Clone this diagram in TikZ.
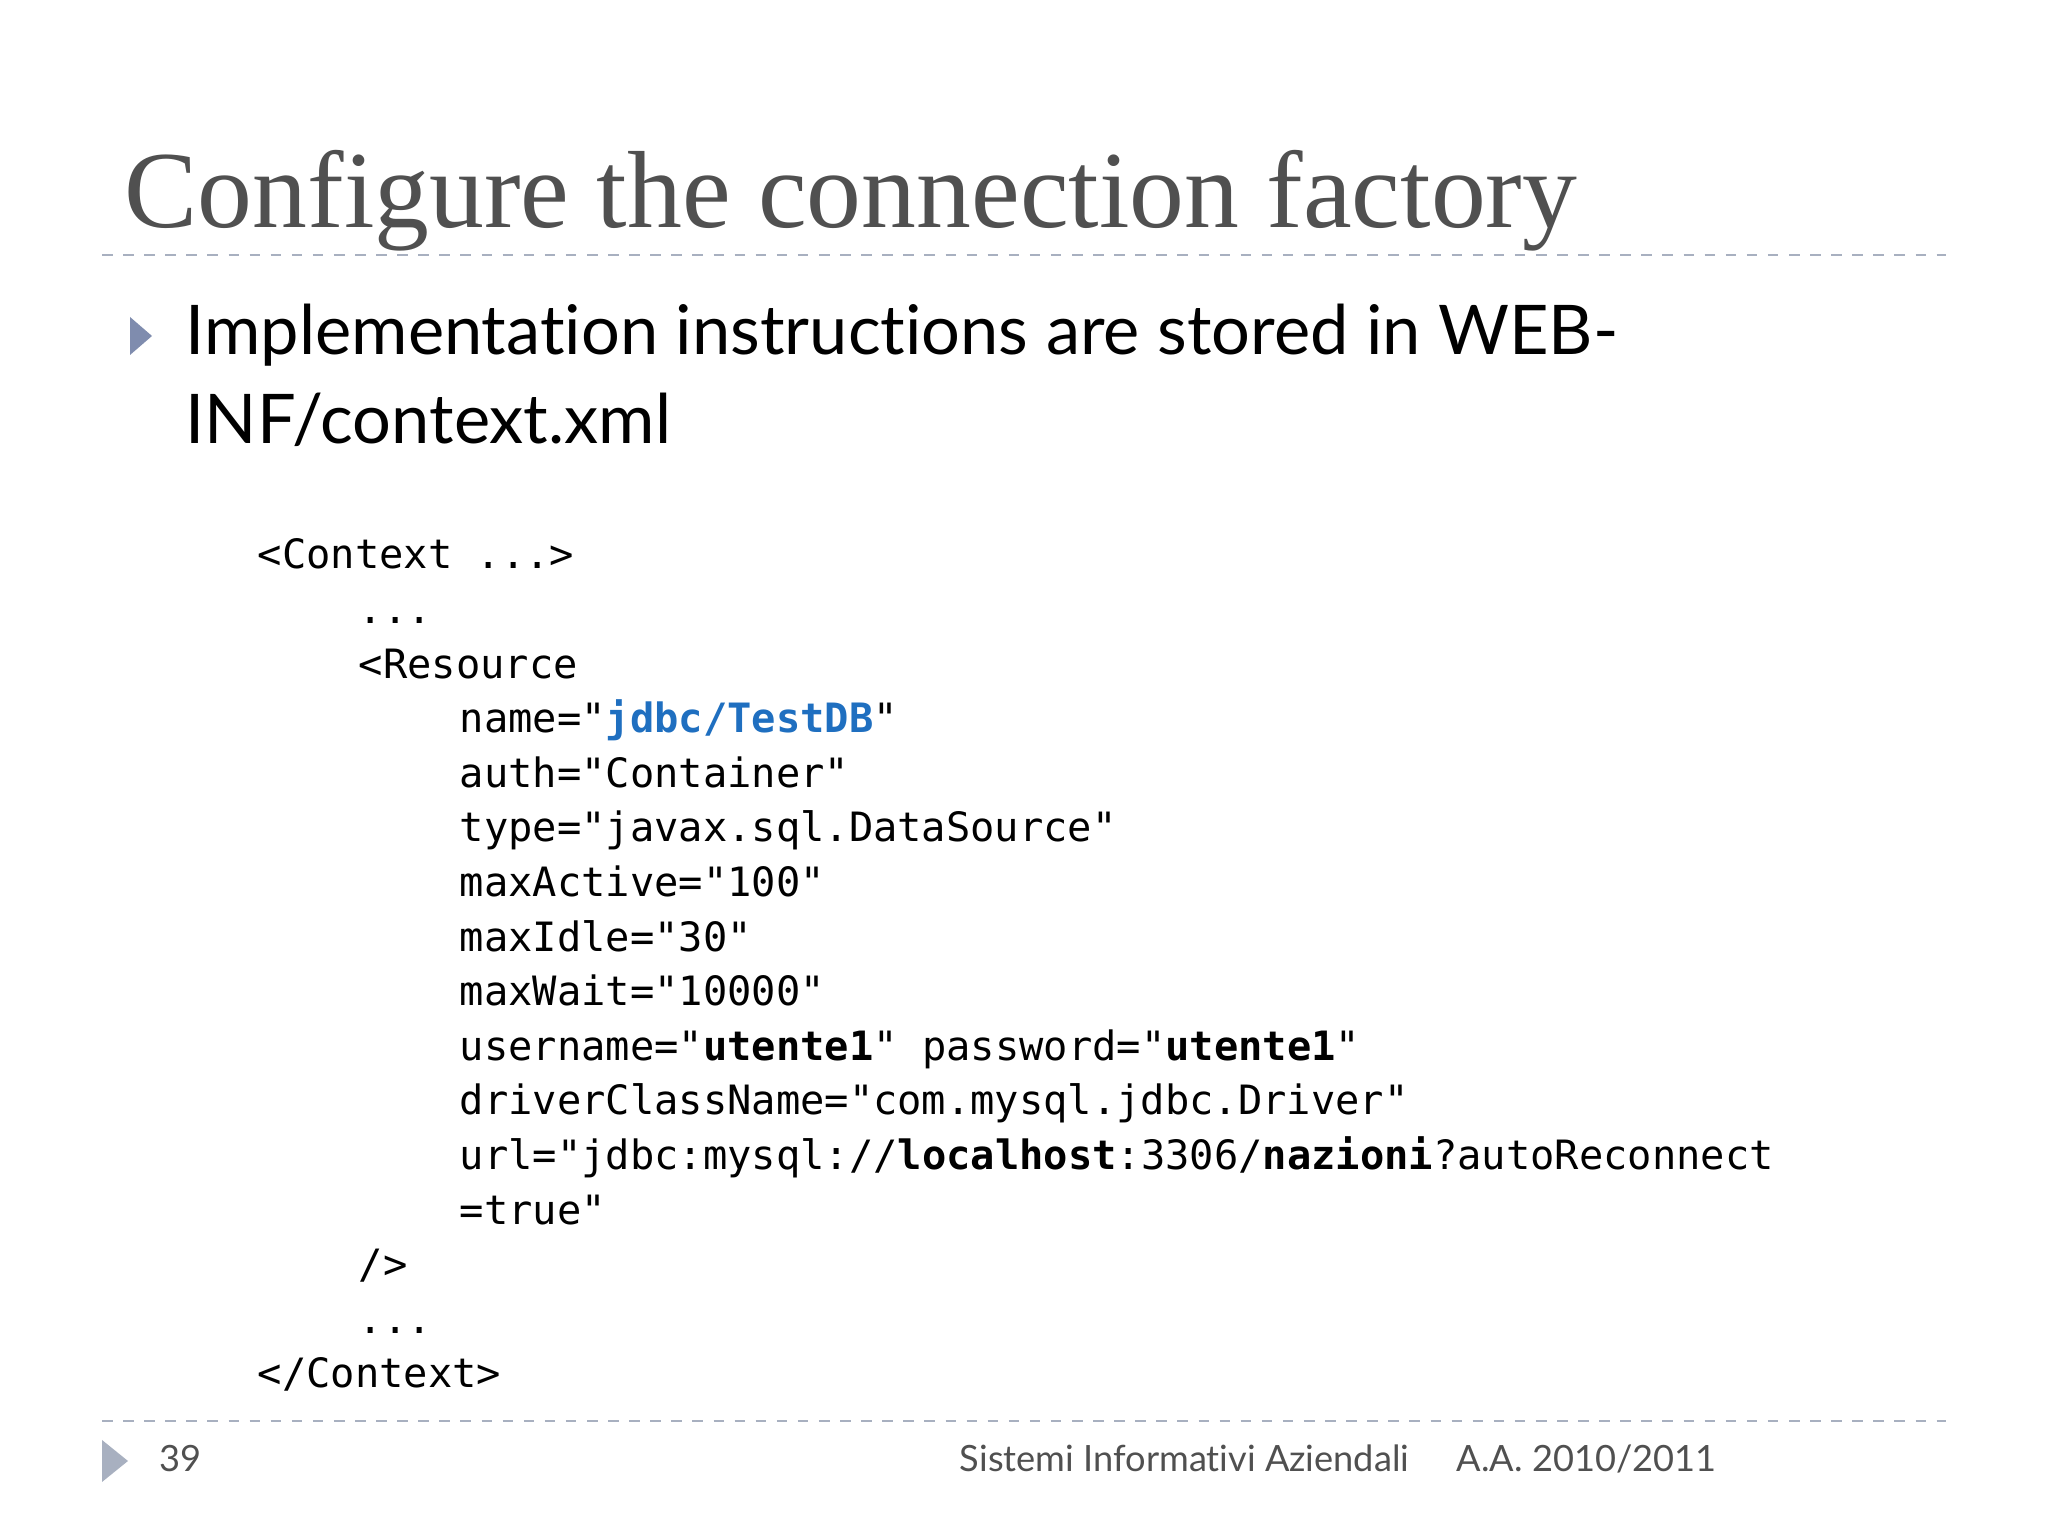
\documentclass[tikz,border=0pt]{standalone}
\usepackage{fontspec}
\setmainfont{Liberation Serif}
\newfontfamily\bodyfont[Ligatures={NoCommon,NoRare,NoContextual}]{Lato}
\setmonofont{DejaVu Sans Mono}
\definecolor{titlegray}{HTML}{505050}
\definecolor{bulletblue}{HTML}{7F8CAE}
\definecolor{codeblue}{HTML}{1F6FC0}
\definecolor{linegray}{HTML}{A8B0C0}
\begin{document}
\begin{tikzpicture}[x=1cm,y=1cm,
  code/.style={anchor=base west,inner sep=0pt,font=\fontsize{11.5}{12}\selectfont\ttfamily},
  sep/.style={draw=linegray,dashed,line width=0.8pt},
  foot/.style={anchor=base west,inner sep=0pt,text=titlegray,font=\bodyfont\fontsize{10.3}{12}\selectfont}]
\useasboundingbox (0,0) rectangle (20.48,15.36);
\fill[white] (0,0) rectangle (20.48,15.36);
% title
\node[anchor=base west,inner sep=0pt,text=titlegray,font=\fontsize{31.2}{34}\selectfont] (title) at (1.24,15.36-2.28) {Configure the connection factory};
\draw[sep] (1.02,15.36-2.55) -- (19.46,15.36-2.55);
% bullet
\fill[bulletblue] (1.30,15.36-3.17) -- (1.52,15.36-3.36) -- (1.30,15.36-3.55) -- cycle;
\node[anchor=base west,inner sep=0pt,font=\bodyfont\fontsize{19.5}{24}\selectfont] (b1) at (1.85,15.36-3.55) {Implementation instructions are stored in WEB-};
\node[anchor=base west,inner sep=0pt,font=\bodyfont\fontsize{19.5}{24}\selectfont] (b2) at (1.85,15.36-4.44) {INF/context.xml};
% code
\def\cx{2.57}\def\cy{15.36-5.69}\def\dl{0.546}\def\ind{1.01}
\node[code] (c1) at (\cx,\cy) {<Context ...>};
\node[code] (c2) at (\cx+\ind,\cy-1*\dl) {...};
\node[code] (c3) at (\cx+\ind,\cy-2*\dl) {<Resource};
\node[code] (c4) at (\cx+2*\ind,\cy-3*\dl) {name="\textcolor{codeblue}{\bfseries jdbc/TestDB}"};
\node[code] (c5) at (\cx+2*\ind,\cy-4*\dl) {auth="Container"};
\node[code] (c6) at (\cx+2*\ind,\cy-5*\dl) {type="javax.sql.DataSource"};
\node[code] (c7) at (\cx+2*\ind,\cy-6*\dl) {maxActive="100"};
\node[code] (c8) at (\cx+2*\ind,\cy-7*\dl) {maxIdle="30"};
\node[code] (c9) at (\cx+2*\ind,\cy-8*\dl) {maxWait="10000"};
\node[code] (c10) at (\cx+2*\ind,\cy-9*\dl) {username="\textbf{utente1}" password="\textbf{utente1}"};
\node[code] (c11) at (\cx+2*\ind,\cy-10*\dl) {driverClassName="com.mysql.jdbc.Driver"};
\node[code] (c12) at (\cx+2*\ind,\cy-11*\dl) {url="jdbc:mysql://\textbf{localhost}:3306/\textbf{nazioni}?autoReconnect};
\node[code] (c13) at (\cx+2*\ind,\cy-12*\dl) {=true"};
\node[code] (c14) at (\cx+\ind,\cy-13*\dl) {/>};
\node[code] (c15) at (\cx+\ind,\cy-14*\dl) {...};
\node[code] (c16) at (\cx,\cy-15*\dl) {</Context>};
% footer
\draw[sep] (1.02,15.36-14.21) -- (19.46,15.36-14.21);
\fill[linegray] (1.02,15.36-14.40) -- (1.28,15.36-14.61) -- (1.02,15.36-14.82) -- cycle;
\node[foot] (pg) at (1.59,15.36-14.72) {39};
\node[foot,anchor=base east] (course) at (14.10,15.36-14.72) {Sistemi Informativi Aziendali};
\node[foot] (year) at (14.56,15.36-14.72) {A.A. 2010/2011};
\end{tikzpicture}
\end{document}
